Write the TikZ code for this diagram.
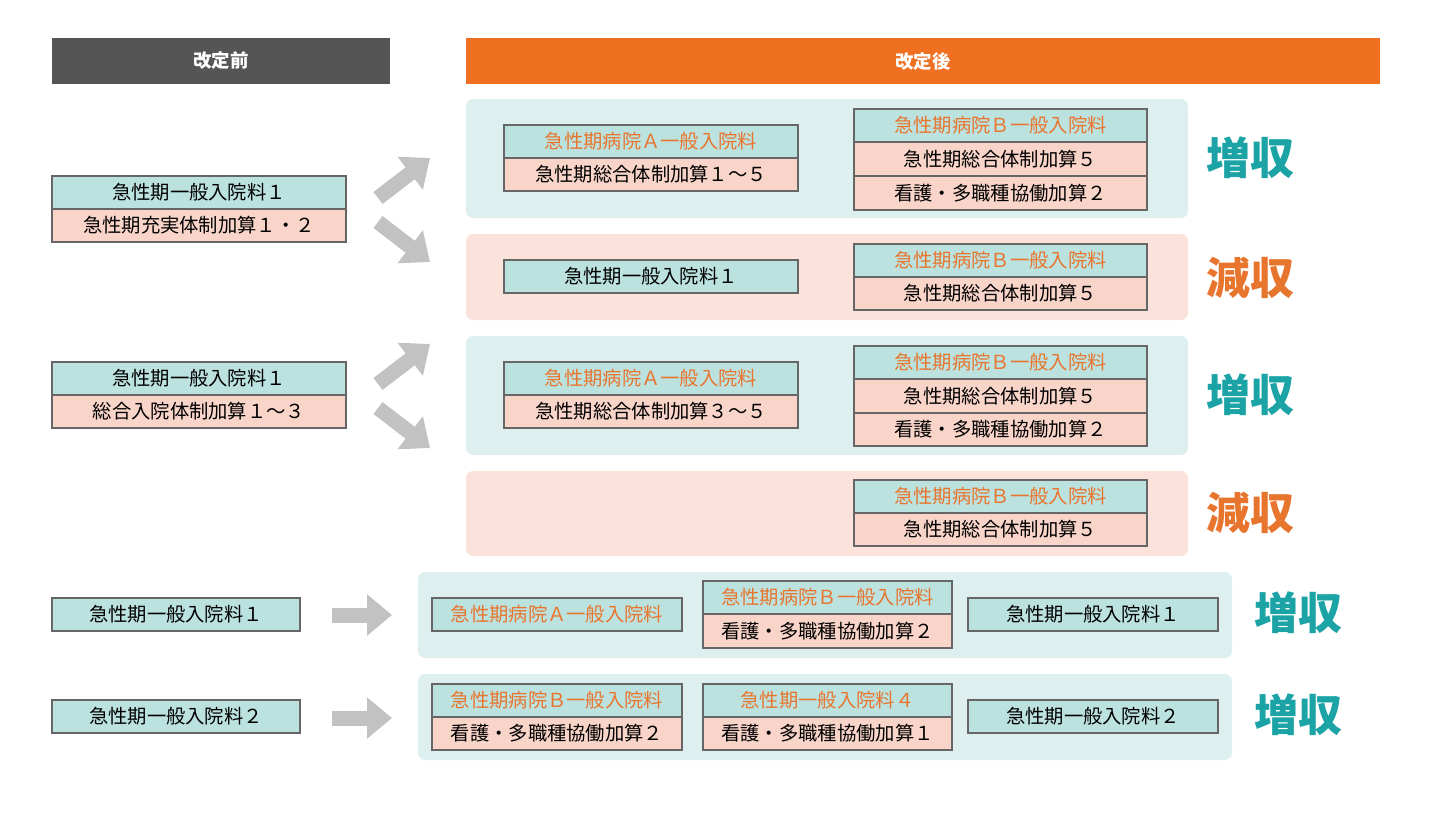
\documentclass[tikz,border=0pt]{standalone}
\usepackage{fontspec}
\setmainfont{Noto Sans CJK JP}
\usetikzlibrary{arrows.meta}
\definecolor{hdgray}{HTML}{555555}
\definecolor{hdorange}{HTML}{F07022}
\definecolor{bgteal}{HTML}{DDEFEF}
\definecolor{bgpink}{HTML}{FBE3DC}
\definecolor{boxteal}{HTML}{BCE2DF}
\definecolor{boxpink}{HTML}{F9D4C9}
\definecolor{txtorange}{HTML}{E8752E}
\definecolor{txtteal}{HTML}{1BA3A6}
\definecolor{arrgray}{HTML}{C2C2C2}
\tikzset{
  cell/.style={draw=black!60, line width=0.8pt, inner sep=0pt, font=\fontsize{11}{11}\selectfont},
  tcell/.style={cell, fill=boxteal},
  ocell/.style={cell, fill=boxteal, text=txtorange},
  pcell/.style={cell, fill=boxpink},
  header/.style={inner sep=0pt, text=white, font=\bfseries\fontsize{10.5}{10.5}\selectfont},
  result/.style={font=\bfseries\fontsize{25}{25}\selectfont},
  fat/.style={arrgray, line width=0.3cm, -{Triangle[width=0.8cm,length=0.5cm]}}
}
% box from (x1,y1) to (x2,y2) in pixels
\newcommand\cellbox[7]{%
  \node[#1, minimum width={(#5-#3)*0.02cm}, minimum height={(#6-#4)*0.02cm}]
    (#2) at ({(#3+#5)/2},{(#4+#6)/2}) {#7};}
\begin{document}
\begin{tikzpicture}[x=0.02cm, y=-0.02cm]
    \useasboundingbox (0,0) rectangle (1448,815);

    % Headers
    \fill[hdgray] (52,38) rectangle (390,84);
    \node[header] (before) at (221,61) {改定前};
    \fill[hdorange] (466,38) rectangle (1380,84);
    \node[header] (after) at (923,61) {改定後};

    % Backgrounds
    \fill[bgteal, rounded corners=4] (466,99) rectangle (1188,218);
    \fill[bgpink, rounded corners=4] (466,234) rectangle (1188,320);
    \fill[bgteal, rounded corners=4] (466,336) rectangle (1188,455);
    \fill[bgpink, rounded corners=4] (466,471) rectangle (1188,556);
    \fill[bgteal, rounded corners=4] (418,572) rectangle (1232,658);
    \fill[bgteal, rounded corners=4] (418,674) rectangle (1232,760);

    % Before
    \cellbox{tcell}{l1a}{52}{176}{346}{209}{急性期一般入院料１}
    \cellbox{pcell}{l1b}{52}{209}{346}{242}{急性期充実体制加算１・２}
    \cellbox{tcell}{l2a}{52}{362}{346}{395}{急性期一般入院料１}
    \cellbox{pcell}{l2b}{52}{395}{346}{428}{総合入院体制加算１～３}
    \cellbox{tcell}{l3}{52}{598}{300}{631}{急性期一般入院料１}
    \cellbox{tcell}{l4}{52}{700}{300}{733}{急性期一般入院料２}

    % Group 1
    \cellbox{ocell}{g1a}{504}{125}{798}{158}{急性期病院Ａ一般入院料}
    \cellbox{pcell}{g1b}{504}{158}{798}{191}{急性期総合体制加算１～５}
    \cellbox{ocell}{g1c}{854}{109}{1147}{142}{急性期病院Ｂ一般入院料}
    \cellbox{pcell}{g1d}{854}{142}{1147}{176}{急性期総合体制加算５}
    \cellbox{pcell}{g1e}{854}{176}{1147}{210}{看護・多職種協働加算２}
    % Group 2
    \cellbox{tcell}{g2a}{504}{260}{798}{293}{急性期一般入院料１}
    \cellbox{ocell}{g2c}{854}{244}{1147}{277}{急性期病院Ｂ一般入院料}
    \cellbox{pcell}{g2d}{854}{277}{1147}{310}{急性期総合体制加算５}
    % Group 3
    \cellbox{ocell}{g3a}{504}{362}{798}{395}{急性期病院Ａ一般入院料}
    \cellbox{pcell}{g3b}{504}{395}{798}{428}{急性期総合体制加算３～５}
    \cellbox{ocell}{g3c}{854}{346}{1147}{379}{急性期病院Ｂ一般入院料}
    \cellbox{pcell}{g3d}{854}{379}{1147}{413}{急性期総合体制加算５}
    \cellbox{pcell}{g3e}{854}{413}{1147}{446}{看護・多職種協働加算２}
    % Group 4
    \cellbox{ocell}{g4c}{854}{480}{1147}{513}{急性期病院Ｂ一般入院料}
    \cellbox{pcell}{g4d}{854}{513}{1147}{546}{急性期総合体制加算５}
    % Group 5
    \cellbox{ocell}{g5a}{432}{598}{682}{631}{急性期病院Ａ一般入院料}
    \cellbox{ocell}{g5b}{703}{581}{952}{614}{急性期病院Ｂ一般入院料}
    \cellbox{pcell}{g5c}{703}{614}{952}{648}{看護・多職種協働加算２}
    \cellbox{tcell}{g5d}{968}{598}{1218}{631}{急性期一般入院料１}
    % Group 6
    \cellbox{ocell}{g6a}{432}{684}{682}{717}{急性期病院Ｂ一般入院料}
    \cellbox{pcell}{g6b}{432}{717}{682}{750}{看護・多職種協働加算２}
    \cellbox{ocell}{g6c}{703}{684}{952}{717}{急性期一般入院料４}
    \cellbox{pcell}{g6d}{703}{717}{952}{750}{看護・多職種協働加算１}
    \cellbox{tcell}{g6e}{968}{700}{1218}{733}{急性期一般入院料２}

    % Results
    \node[result, text=txtteal] (r1) at (1250,158) {増収};
    \node[result, text=txtorange] (r2) at (1250,278) {減収};
    \node[result, text=txtteal] (r3) at (1250,395) {増収};
    \node[result, text=txtorange] (r4) at (1250,513) {減収};
    \node[result, text=txtteal] (r5) at (1298,613) {増収};
    \node[result, text=txtteal] (r6) at (1298,715) {増収};

    % Arrows
    \coordinate (s1u) at (378,198); \coordinate (e1u) at (430,158);
    \coordinate (s1d) at (378,222); \coordinate (e1d) at (430,262);
    \coordinate (s2u) at (378,384); \coordinate (e2u) at (430,344);
    \coordinate (s2d) at (378,408); \coordinate (e2d) at (430,448);
    \coordinate (s3) at (332,615); \coordinate (e3) at (392,615);
    \coordinate (s4) at (332,718); \coordinate (e4) at (392,718);
    \foreach \a/\b in {s1u/e1u, s1d/e1d, s2u/e2u, s2d/e2d, s3/e3, s4/e4}
        \draw[fat] (\a) -- (\b);
\end{tikzpicture}
\end{document}
